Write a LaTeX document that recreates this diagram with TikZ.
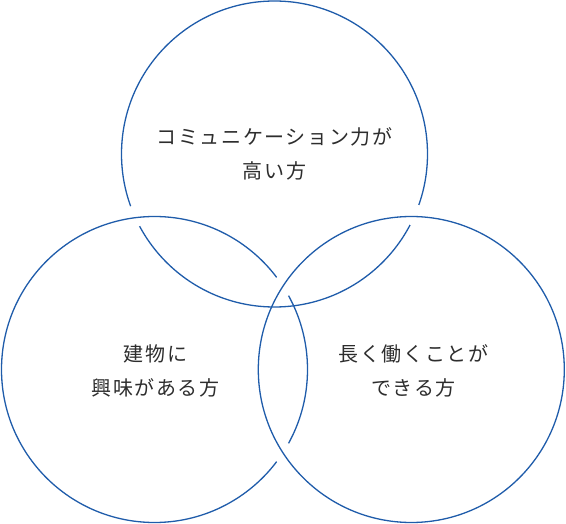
\documentclass[tikz,border=0pt]{standalone}
\usepackage{fontspec}
\newfontfamily\jpfont[LetterSpace=8]{Noto Sans CJK JP}
\definecolor{ringblue}{RGB}{31,92,170}
\definecolor{txtgray}{RGB}{45,45,45}
\begin{document}
\begin{tikzpicture}[x=1pt,y=-1pt,
  ring/.style={draw=ringblue,line width=1.3pt},
  gapdisc/.style={fill=white,draw=none},
  label/.style={align=center,text=txtgray,font=\jpfont\fontsize{20}{33.5}\selectfont,inner sep=0pt}]
\useasboundingbox (0,0) rectangle (566,524);
\coordinate (cT) at (274.5,154);
\coordinate (cL) at (154.5,369.5);
\coordinate (cR) at (411.3,369.5);
\coordinate (xTL) at (134.5,216.5);
\coordinate (xTR) at (415.5,215.5);
\coordinate (xLRa) at (282.9,286.3);
\coordinate (xLRb) at (282.9,452.7);
% top ring (under left and right at outer crossings)
\draw[ring] (cT) circle[radius=153];
\fill[gapdisc] (xTL) circle[radius=11];
\fill[gapdisc] (xTR) circle[radius=11];
% left ring (under right ring)
\draw[ring] (cL) circle[radius=153];
\fill[gapdisc] (xLRa) circle[radius=11];
\fill[gapdisc] (xLRb) circle[radius=11];
% right ring
\draw[ring] (cR) circle[radius=153];
\node[label] (tT) at (274.5,154) {コミュニケーション力が\\高い方};
\node[label] (tL) at (155.5,371) {建物に\\興味がある方};
\node[label] (tR) at (413.5,371) {長く働くことが\\できる方};
\end{tikzpicture}
\end{document}
